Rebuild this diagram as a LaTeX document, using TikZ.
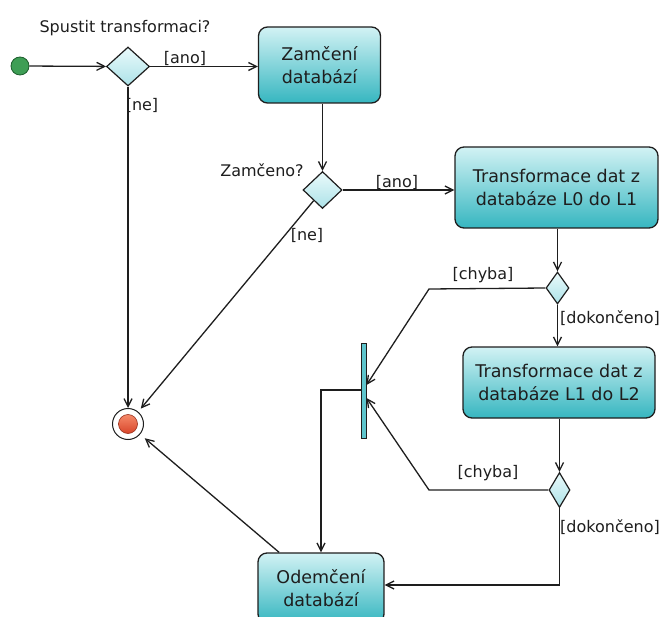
\documentclass[tikz,border=0pt]{standalone}
\usepackage{fontspec}
\setmainfont{DejaVu Sans}
\usetikzlibrary{arrows.meta,shapes.geometric,calc}

\definecolor{ink}{HTML}{1E1E1E}
\definecolor{boxtop}{HTML}{D2F2F4}
\definecolor{boxbot}{HTML}{36B6C0}
\definecolor{dtop}{HTML}{EAFAFB}
\definecolor{dbot}{HTML}{ACE2E8}
\definecolor{startgreen}{HTML}{3E9E55}
\definecolor{startedge}{HTML}{1D5E2D}
\definecolor{endtop}{HTML}{F58A6A}
\definecolor{endbot}{HTML}{D8452A}

\begin{document}
\begin{tikzpicture}[x=1pt,y=-1pt,
  flow/.style={draw=ink, line width=1.3pt, -{Straight Barb[length=8pt,width=8pt]}},
  action/.style={draw=ink, line width=1.3pt, rounded corners=9pt,
    top color=boxtop, bottom color=boxbot, align=center, inner sep=0pt,
    font=\fontsize{17.5}{23}\selectfont, text=ink},
  decision/.style={diamond, draw=ink, line width=1.2pt, top color=dtop,
    bottom color=dbot, inner sep=0pt},
  lbl/.style={inner sep=0pt, font=\fontsize{16}{19}\selectfont, text=ink},
  bar/.style={draw=ink, line width=1pt, fill=boxbot!80, inner sep=0pt,
    minimum width=5pt, minimum height=95pt}
]
\useasboundingbox (0,0) rectangle (663,617);

% initial and final states
\node[circle, draw=startedge, line width=0.8pt, fill=startgreen,
  minimum size=18pt, inner sep=0pt] (start) at (20,66) {};
\node[circle, draw=ink, line width=1pt, fill=white, minimum size=31pt,
  inner sep=0pt] (final) at (128,424) {};
\node[circle, draw=endbot!70!black, line width=0.6pt, top color=endtop,
  bottom color=endbot, minimum size=19pt, inner sep=0pt] (finalcore) at (128,424) {};

% decisions
\node[decision, minimum width=43pt, minimum height=39pt] (d1) at (128,66.5) {};
\node[decision, minimum width=39pt, minimum height=37pt] (d2) at (322.5,190) {};
\node[decision, minimum width=23pt, minimum height=32pt] (d3) at (557.5,288) {};
\node[decision, minimum width=21pt, minimum height=35pt] (d4) at (559.5,490) {};

% actions
\node[action, minimum width=122pt, minimum height=76pt] (box1) at (319.5,65)
  {Zamčení\\databází};
\node[action, minimum width=203pt, minimum height=81pt] (box2) at (556.5,187.5)
  {Transformace dat z\\databáze L0 do L1};
\node[action, minimum width=192pt, minimum height=71pt] (box3) at (559,382.5)
  {Transformace dat z\\databáze L1 do L2};
\node[action, minimum width=126pt, minimum height=70pt] (box4) at (321,588)
  {Odemčení\\databází};

% synchronisation bar
\node[bar] (sync) at (363.5,390.5) {};

% bend points
\coordinate (c1) at (429,289);
\coordinate (c2) at (429,490);
\coordinate (c3) at (559.5,585);
\coordinate (j1) at ($(sync.east)+(0,-5.5)$);
\coordinate (j2) at ($(sync.east)+(0,7.5)$);
\coordinate (j0) at ($(sync.west)+(0,-0.5)$);

% connectors
\draw[flow] (start) -- (d1);
\draw[flow] (d1.east) -- (d1.east -| box1.west);
\draw[flow] (d1.south) -- (final);
\draw[flow] (d2.north |- box1.south) -- (d2.north);
\draw[flow] (d2.east) -- (d2.east -| box2.west);
\draw[flow, shorten >=4pt] (d2) -- (final);
\draw[flow] (d3.north |- box2.south) -- (d3.north);
\draw[flow] (d3.west) -- (c1) -- (j1);
\draw[flow] (d3.south) -- (d3.south |- box3.north);
\draw[flow] (d4.north |- box3.south) -- (d4.north);
\draw[flow] (d4.west) -- (c2) -- (j2);
\draw[flow] (d4.south) -- (c3) -- (c3 -| box4.east);
\draw[flow] (j0) -- (j0 -| box4.north) -- (box4.north);
\draw[flow, shorten >=6pt] (box4) -- (final);

% labels
\node[lbl] (q1) at (125,28) {Spustit transformaci?};
\node[lbl] (q2) at (262,170) {Zamčeno?};
\node[lbl] (l1) at (185,58) {[ano]};
\node[lbl] (l2) at (142,105) {[ne]};
\node[lbl] (l3) at (397,182) {[ano]};
\node[lbl] (l4) at (307,235) {[ne]};
\node[lbl] (l5) at (483,275) {[chyba]};
\node[lbl] (l6) at (610,318) {[dokončeno]};
\node[lbl] (l7) at (488,473) {[chyba]};
\node[lbl] (l8) at (610,527) {[dokončeno]};
\end{tikzpicture}
\end{document}
